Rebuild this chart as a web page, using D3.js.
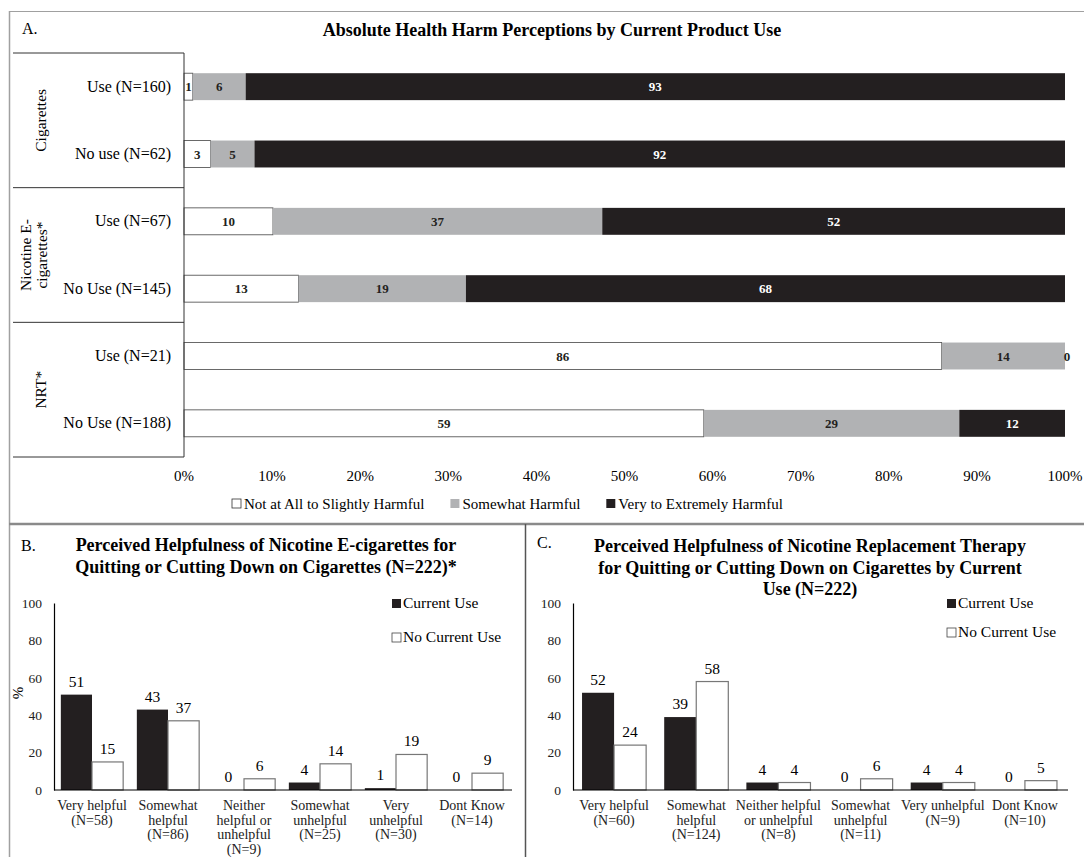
<!DOCTYPE html>
<html>
<head>
<meta charset="utf-8">
<script src="https://cdn.jsdelivr.net/npm/d3@7"></script>
<style>
  body { margin: 0; background: #fff; }
  svg { font-family: "Liberation Serif", "Times New Roman", serif; }
</style>
</head>
<body>
<div id="chart"></div>
<script>
// Panel A data
const harmRows = ["Use (N=160)", "No use (N=62)", "Use (N=67)", "No Use (N=145)", "Use (N=21)", "No Use (N=188)"];
const harmGroups = [["Cigarettes"], ["Nicotine E-", "cigarettes*"], ["NRT*"]];
const notHarmful = [1, 3, 10, 13, 86, 59];
const somewhatHarmful = [6, 5, 37, 19, 14, 29];
const veryHarmful = [93, 92, 52, 68, 0, 12];
const harmTicks = [0, 10, 20, 30, 40, 50, 60, 70, 80, 90, 100];
const harmKeys = ["Not at All to Slightly Harmful", "Somewhat Harmful", "Very to Extremely Harmful"];

// Panel B data
const ecigCats = [["Very helpful", "(N=58)"], ["Somewhat", "helpful", "(N=86)"], ["Neither", "helpful or", "unhelpful", "(N=9)"],
                  ["Somewhat", "unhelpful", "(N=25)"], ["Very", "unhelpful", "(N=30)"], ["Dont Know", "(N=14)"]];
const ecigCurrent = [51, 43, 0, 4, 1, 0];
const ecigNoCurrent = [15, 37, 6, 14, 19, 9];

// Panel C data
const nrtCats = [["Very helpful", "(N=60)"], ["Somewhat", "helpful", "(N=124)"], ["Neither helpful", "or unhelpful", "(N=8)"],
                 ["Somewhat", "unhelpful", "(N=11)"], ["Very unhelpful", "(N=9)"], ["Dont Know", "(N=10)"]];
const nrtCurrent = [52, 39, 4, 0, 4, 0];
const nrtNoCurrent = [24, 58, 4, 6, 4, 5];

const yTicks = [0, 20, 40, 60, 80, 100];

const BLACK = "#231f20", GRAY = "#b1b2b4", FRAME = "#a0a0a0";

const svg = d3.select("#chart").append("svg")
    .attr("width", 1084).attr("height", 857);

// frames
svg.append("line").attr("x1", 9).attr("x2", 1084).attr("y1", 11.5).attr("y2", 11.5).attr("stroke", FRAME).attr("stroke-width", 1.2);
svg.append("line").attr("x1", 9.5).attr("x2", 9.5).attr("y1", 11).attr("y2", 857).attr("stroke", FRAME).attr("stroke-width", 1.5);
svg.append("line").attr("x1", 9).attr("x2", 1084).attr("y1", 524).attr("y2", 524).attr("stroke", "#8a8a8a").attr("stroke-width", 2.5);
svg.append("line").attr("x1", 525.5).attr("x2", 525.5).attr("y1", 524).attr("y2", 857).attr("stroke", "#555").attr("stroke-width", 1.5);

// ---------- Panel A ----------
const gA = svg.append("g");
gA.append("text").attr("x", 22).attr("y", 34).attr("font-size", 16).text("A.");
gA.append("text").attr("x", 552).attr("y", 36).attr("text-anchor", "middle")
    .attr("font-size", 18).attr("font-weight", "bold")
    .text("Absolute Health Harm Perceptions by Current Product Use");

const xA = d3.scaleLinear().domain([0, 1]).range([184, 1065]);
const yA = d3.scaleBand().domain(harmRows.map((d, i) => i)).range([53, 457])
    .paddingInner(0.6).paddingOuter(0.3);

const rowsA = harmRows.map((r, i) => ({
    row: i, [harmKeys[0]]: notHarmful[i], [harmKeys[1]]: somewhatHarmful[i], [harmKeys[2]]: veryHarmful[i]
}));
const stackA = d3.stack().keys(harmKeys).offset(d3.stackOffsetExpand)(rowsA);
const fillA = ["#fff", GRAY, BLACK];

stackA.forEach((layer, k) => {
    gA.selectAll(".seg" + k)
        .data(layer)
        .join("rect")
        .attr("x", d => xA(d[0]))
        .attr("y", d => yA(d.data.row))
        .attr("width", d => xA(d[1]) - xA(d[0]))
        .attr("height", yA.bandwidth())
        .attr("fill", fillA[k])
        .attr("stroke", k === 0 ? "#444" : "none")
        .attr("stroke-width", 0.8);
    gA.selectAll(".lab" + k)
        .data(layer)
        .join("text")
        .attr("x", d => (xA(d[0]) + xA(d[1])) / 2 + (d[1] - d[0] < 0.001 ? 2 : 0))
        .attr("y", d => yA(d.data.row) + yA.bandwidth() / 2 + 4.5)
        .attr("text-anchor", "middle")
        .attr("font-size", 13).attr("font-weight", "bold")
        .attr("fill", d => (k === 2 && d.data[harmKeys[2]] > 0) ? "#fff" : BLACK)
        .text(d => d.data[harmKeys[k]]);
});

// row labels
gA.selectAll(".rowlab").data(harmRows).join("text")
    .attr("x", 171).attr("y", (d, i) => yA(i) + yA.bandwidth() / 2 + 5)
    .attr("text-anchor", "end").attr("font-size", 16).text(d => d);

// group boxes
const stepA = yA.step();
const boxLines = [0, 1, 2, 3].map(i => 53 + stepA * 2 * i);
gA.selectAll(".hline").data(boxLines).join("line")
    .attr("x1", 13).attr("x2", 184).attr("y1", d => d).attr("y2", d => d)
    .attr("stroke", "#333").attr("stroke-width", 1);
gA.append("line").attr("x1", 184).attr("x2", 184).attr("y1", 53).attr("y2", 457)
    .attr("stroke", "#333").attr("stroke-width", 1);
harmGroups.forEach((lines, g) => {
    const cy = 53 + stepA * (2 * g + 1);
    const t = gA.append("text")
        .attr("transform", `translate(${lines.length > 1 ? 31 : 46},${cy}) rotate(-90)`)
        .attr("text-anchor", "middle").attr("font-size", 15.5);
    lines.forEach((l, j) => t.append("tspan").attr("x", 0).attr("dy", j === 0 ? 0 : 15.5).text(l));
});

// x axis ticks
gA.selectAll(".tickA").data(harmTicks).join("text")
    .attr("x", d => xA(d / 100)).attr("y", 481).attr("text-anchor", "middle")
    .attr("font-size", 15).text(d => d + "%");

// legend, laid out left to right
const legFill = [{ fill: "#fff", stroke: "#333" }, { fill: GRAY, stroke: "none" }, { fill: BLACK, stroke: "none" }];
let legX = 232;
harmKeys.forEach((key, i) => {
    gA.append("rect").attr("x", legX).attr("y", 499).attr("width", 9).attr("height", 9)
        .attr("fill", legFill[i].fill).attr("stroke", legFill[i].stroke).attr("stroke-width", 0.8);
    const t = gA.append("text").attr("x", legX + 12).attr("y", 509).attr("font-size", 15).text(key);
    legX += 12 + t.node().getComputedTextLength() + 26;
});

// ---------- Panels B and C ----------
function groupedChart(opt) {
    const g = svg.append("g");
    g.append("text").attr("x", opt.letterX).attr("y", opt.letterY).attr("font-size", 16).text(opt.letter);
    const title = g.append("text").attr("text-anchor", "middle").attr("font-size", 18).attr("font-weight", "bold");
    opt.title.forEach((t, i) => title.append("tspan").attr("x", opt.titleX).attr("y", opt.titleY + i * 21.5).text(t));

    const x = d3.scaleBand().domain(opt.cats.map((d, i) => i)).range([opt.x0, opt.x1])
        .paddingInner(opt.pad).paddingOuter(opt.pad / 2);
    const xs = d3.scaleBand().domain([0, 1]).range([0, x.bandwidth()]);
    const y = d3.scaleLinear().domain([0, 100]).range([790, 603]);

    const rows = opt.cats.map((c, i) => [opt.current[i], opt.noCurrent[i]]);
    const grp = g.selectAll(".grp").data(rows).join("g")
        .attr("transform", (d, i) => `translate(${x(i)},0)`);
    grp.selectAll("rect").data(d => d).join("rect")
        .attr("x", (d, j) => xs(j)).attr("y", d => y(d))
        .attr("width", xs.bandwidth()).attr("height", d => y(0) - y(d))
        .attr("fill", (d, j) => j === 0 ? BLACK : "#fff")
        .attr("stroke", (d, j) => j === 0 ? "none" : "#777").attr("stroke-width", 1.2);
    grp.selectAll("text").data(d => d).join("text")
        .attr("x", (d, j) => xs(j) + xs.bandwidth() / 2).attr("y", d => y(d) - 8)
        .attr("text-anchor", "middle").attr("font-size", 15.5).text(d => d);

    // axes
    const yAxis = g.append("g").attr("transform", `translate(${opt.x0},0)`)
        .call(d3.axisLeft(y).tickValues(yTicks).tickSize(0).tickPadding(opt.tickPad));
    yAxis.select(".domain").attr("stroke", "#000").attr("stroke-width", 1.2);
    yAxis.selectAll("text").attr("font-size", 13.5).attr("font-family", "Liberation Serif").attr("fill", "#222");
    g.append("line").attr("x1", opt.x0).attr("x2", opt.x1 + 2).attr("y1", 790).attr("y2", 790)
        .attr("stroke", "#000").attr("stroke-width", 1.2);

    // category labels
    opt.cats.forEach((lines, i) => {
        const t = g.append("text").attr("text-anchor", "middle").attr("font-size", 14).attr("fill", "#222");
        lines.forEach((l, j) => t.append("tspan").attr("x", x(i) + x.bandwidth() / 2).attr("y", 810 + j * 14.5).text(l));
    });

    // legend
    const legend = [{ label: "Current Use", fill: BLACK, stroke: "none" }, { label: "No Current Use", fill: "#fff", stroke: "#444" }];
    legend.forEach((l, i) => {
        g.append("rect").attr("x", opt.legX).attr("y", opt.legY + i * opt.legGap - 9).attr("width", 9).attr("height", 9)
            .attr("fill", l.fill).attr("stroke", l.stroke).attr("stroke-width", 0.8);
        g.append("text").attr("x", opt.legX + 11).attr("y", opt.legY + i * opt.legGap).attr("font-size", 15.5).text(l.label);
    });

    if (opt.yLabel) {
        g.append("text").attr("transform", `translate(23,693) rotate(-90)`).attr("text-anchor", "middle")
            .attr("font-size", 15).text(opt.yLabel);
    }
}

groupedChart({
    letter: "B.", letterX: 21, letterY: 551,
    title: ["Perceived Helpfulness of Nicotine E-cigarettes for", "Quitting or Cutting Down on Cigarettes (N=222)*"],
    titleX: 266, titleY: 551,
    cats: ecigCats, current: ecigCurrent, noCurrent: ecigNoCurrent,
    x0: 54, x1: 510, pad: 0.18, tickPad: 12,
    legX: 392, legY: 608, legGap: 34, yLabel: "%"
});

groupedChart({
    letter: "C.", letterX: 537, letterY: 548,
    title: ["Perceived Helpfulness of Nicotine Replacement Therapy", "for Quitting or Cutting Down on Cigarettes by Current", "Use (N=222)"],
    titleX: 810, titleY: 552,
    cats: nrtCats, current: nrtCurrent, noCurrent: nrtNoCurrent,
    x0: 573, x1: 1066, pad: 0.22, tickPad: 12,
    legX: 947, legY: 608, legGap: 29
});
</script>
</body>
</html>
